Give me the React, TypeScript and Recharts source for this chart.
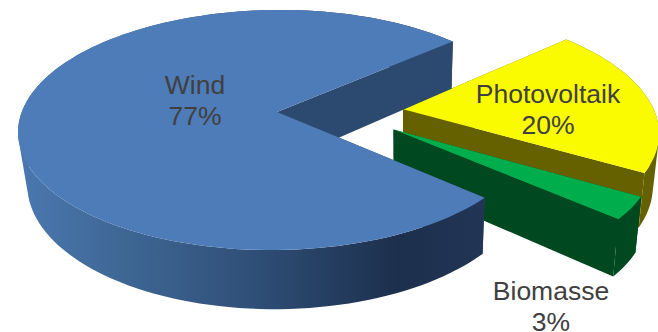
import { PieChart, Pie } from "recharts";

const names = ["Photovoltaik", "Biomasse", "Wind"];
const shares = [20, 3, 77];

const topColors: Record<string, string> = {
  Photovoltaik: "#fbfb00",
  Biomasse: "#00ad4d",
  Wind: "#4e7cb8",
};
const cutColors: Record<string, string> = {
  Photovoltaik: "#666100",
  Biomasse: "#004820",
  Wind: "#2c4a70",
};
const rimColors: Record<string, string> = {
  Photovoltaik: "#666100",
  Biomasse: "#004820",
  Wind: "url(#windRim)",
};
// label anchors, top line baseline
const labelSpots: Record<string, [number, number]> = {
  Wind: [195, 94],
  Photovoltaik: [548, 103],
  Biomasse: [551, 300],
};

const data = names.map((name, i) => ({ name, value: shares[i] }));

const RAD = Math.PI / 180;
const TILT = 0.462; // vertical squash of the disc
const PERSPECTIVE = 0.15; // far edge shrinks, near edge grows
const PERSPECTIVE_X = 0.005; // right side recedes a little
const SKEW = 0.018; // the view is slightly turned
const EXPLODE = 0.25; // slice offset, in radii
const VANISH_X = 400;
const VANISH_T = 0.024;

type Pt = [number, number];

// extrusion: each top point drops to the base plane, a bit more when nearer
function drop([x, y]: Pt): Pt {
  return [x + (VANISH_X - x) * VANISH_T, y + 47 + (y - 40) * 0.0577];
}

function toPath(points: Pt[]) {
  return "M" + points.map(([x, y]) => `${x.toFixed(1)},${y.toFixed(1)}`).join("L") + "Z";
}

// same winding for every quad, so the nonzero fill gives their union
function quadPath(a: Pt, b: Pt) {
  const quad = [a, b, drop(b), drop(a)];
  let area = 0;
  quad.forEach(([x, y], i) => {
    const [nx, ny] = quad[(i + 1) % 4];
    area += x * ny - nx * y;
  });
  return toPath(area < 0 ? quad.reverse() : quad);
}

function Slice3D(props: any) {
  const { cx, cy, outerRadius: r, startAngle, endAngle, name } = props;
  const mid = ((startAngle + endAngle) / 2) * RAD;
  const ox = EXPLODE + EXPLODE * Math.cos(mid);
  const oy = EXPLODE * Math.sin(mid);

  const project = (u: number, v: number): Pt => {
    const w = 1 + PERSPECTIVE * v + PERSPECTIVE_X * u;
    return [cx + (r * u) / w + r * SKEW * v, cy - (r * TILT * v) / w];
  };

  const apex = project(ox, oy);
  const rim: Pt[] = [];
  const steps = Math.ceil(Math.abs(endAngle - startAngle) / 2);
  for (let i = 0; i <= steps; i++) {
    const a = (startAngle + ((endAngle - startAngle) * i) / steps) * RAD;
    rim.push(project(ox + Math.cos(a), oy + Math.sin(a)));
  }
  const first = rim[0];
  const last = rim[rim.length - 1];
  const rimWall = rim.slice(1).map((p, i) => quadPath(rim[i], p)).join("");

  // slices run clockwise, so the closing cut wall is the one facing the viewer
  return (
    <g>
      <path d={quadPath(apex, first)} fill={cutColors[name]} />
      <path d={rimWall} fill={rimColors[name]} />
      <path d={quadPath(apex, last)} fill={cutColors[name]} />
      <path d={toPath([apex, ...rim])} fill={topColors[name]} />
    </g>
  );
}

function SliceLabel(props: any) {
  const { name, percent } = props;
  const [x, y] = labelSpots[name];
  return (
    <text
      x={x}
      y={y}
      textAnchor="middle"
      fontFamily="Liberation Sans"
      fontSize={26.5}
      fill="#404040"
    >
      <tspan x={x}>{name}</tspan>
      <tspan x={x} dy={31}>{`${Math.round(percent * 100)}%`}</tspan>
    </text>
  );
}

export default function App() {
  return (
    <div style={{ position: "absolute", left: 0, top: 0 }}>
      <PieChart width={658} height={332} margin={{ top: 0, right: 0, bottom: 0, left: 0 }}>
        <defs>
          <linearGradient id="windRim" x1="0" y1="0" x2="1" y2="0">
            <stop offset="0" stopColor="#4a78b0" />
            <stop offset="0.25" stopColor="#3d6591" />
            <stop offset="0.5" stopColor="#2f4f78" />
            <stop offset="0.82" stopColor="#1c2f4c" />
            <stop offset="1" stopColor="#223556" />
          </linearGradient>
        </defs>
        <Pie
          data={data}
          dataKey="value"
          nameKey="name"
          cx={277}
          cy={112}
          innerRadius={0}
          outerRadius={254}
          startAngle={41.4}
          endAngle={-318.6}
          paddingAngle={0}
          stroke="none"
          shape={Slice3D}
          label={SliceLabel}
          labelLine={false}
          isAnimationActive={false}
        />
      </PieChart>
    </div>
  );
}
